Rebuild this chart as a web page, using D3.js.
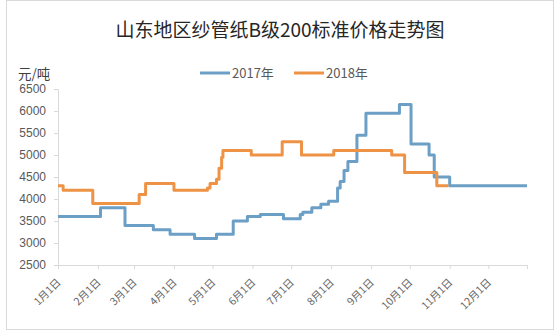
<!DOCTYPE html>
<html>
<head>
<meta charset="utf-8">
<script src="https://cdn.jsdelivr.net/npm/d3@7/dist/d3.min.js"></script>
<style>
  html, body { margin: 0; padding: 0; background: #fff; }
  svg { display: block; }
</style>
</head>
<body>
<svg id="chart" width="560" height="335"></svg>
<script>
// Price change points (month-day, 元/吨); each level holds until the next date
const dates2017 = ["01-01","02-03","02-22","03-16","03-29","04-17","05-04","05-17","05-28","06-07","06-25","07-08","07-10","07-17","07-24","07-30","08-06","08-08","08-11","08-14","08-21","08-28","09-23","10-02","10-16","10-20","11-01","12-31"];
const values2017 = [3600,3800,3400,3300,3200,3100,3200,3500,3600,3650,3550,3650,3700,3800,3880,3950,4250,4400,4650,4850,5450,5950,6150,5250,5000,4500,4300,4300];

const dates2018 = ["01-01","01-05","01-28","03-05","03-10","04-01","04-27","04-29","05-04","05-06","05-08","05-09","05-31","06-24","07-09","08-03","09-17","09-27","10-22","10-31"];
const values2018 = [4300,4200,3900,4100,4350,4200,4250,4350,4450,4700,4950,5100,5000,5300,5000,5100,5000,4600,4300,4300];

const seriesNames = ["2017年", "2018年"];
const seriesColors = ["#6c9fc6", "#ee9346"];

const tickMonths = ["01-01","02-01","03-01","04-01","05-01","06-01","07-01","08-01","09-01","10-01","11-01","12-01"];
const tickLabels = ["1月1日","2月1日","3月1日","4月1日","5月1日","6月1日","7月1日","8月1日","9月1日","10月1日","11月1日","12月1日"];
const yTicks = [2500,3000,3500,4000,4500,5000,5500,6000,6500];

const titleText = "山东地区纱管纸B级200标准价格走势图";
const unitText = "元/吨";

// Both years share one month-day axis
const parseMD = md => d3.timeParse("%Y-%m-%d")("2017-" + md);

const svg = d3.select("#chart");
const plot = { left: 58, right: 527, top: 89, bottom: 265 };

// chart frame
svg.append("rect")
  .attr("x", 6.5).attr("y", 0.5)
  .attr("width", 547).attr("height", 329)
  .attr("fill", "#fff").attr("stroke", "#d9d9d9");

const x = d3.scaleTime()
  .domain([parseMD("01-01"), parseMD("12-31")])
  .range([plot.left, plot.right]);

const y = d3.scaleLinear()
  .domain([2500, 6500])
  .range([plot.bottom, plot.top]);

const axisFont = "'Liberation Sans', Arial, sans-serif";
const cjkFont = "'Noto Sans CJK SC', 'Noto Sans', sans-serif";

// y axis
const yAxis = svg.append("g")
  .attr("transform", `translate(${plot.left},0)`)
  .call(d3.axisLeft(y).tickValues(yTicks).tickSize(4).tickPadding(8).tickFormat(d3.format("d")));
yAxis.select(".domain").attr("stroke", "#d9d9d9");
yAxis.selectAll(".tick line").attr("stroke", "#d9d9d9");
yAxis.selectAll(".tick text")
  .attr("fill", "#595959")
  .style("font-family", axisFont)
  .style("font-size", "12px");

// x axis
const xAxis = svg.append("g")
  .attr("transform", `translate(0,${plot.bottom})`)
  .call(d3.axisBottom(x)
    .tickValues(tickMonths.map(parseMD))
    .tickSize(4)
    .tickFormat((d, i) => tickLabels[i]));
xAxis.select(".domain").attr("stroke", "#d9d9d9");
xAxis.selectAll(".tick line").attr("stroke", "#d9d9d9");
xAxis.selectAll(".tick text")
  .attr("x", 0).attr("y", 0).attr("dy", 0)
  .attr("transform", "translate(3,18) rotate(-45)")
  .attr("text-anchor", "end")
  .attr("fill", "#666")
  .style("font-family", cjkFont)
  .style("font-size", "10.5px");

// price lines
const line = d3.line()
  .x(d => x(d.date))
  .y(d => y(d.value))
  .curve(d3.curveStepAfter);

const series = [
  { name: seriesNames[0], color: seriesColors[0], pts: dates2017.map((d, i) => ({ date: parseMD(d), value: values2017[i] })) },
  { name: seriesNames[1], color: seriesColors[1], pts: dates2018.map((d, i) => ({ date: parseMD(d), value: values2018[i] })) }
];

svg.append("g").selectAll("path")
  .data(series)
  .join("path")
  .attr("d", s => line(s.pts))
  .attr("fill", "none")
  .attr("stroke", s => s.color)
  .attr("stroke-width", 3)
  .attr("stroke-linejoin", "round");

// title
svg.append("text")
  .attr("x", 280).attr("y", 37)
  .attr("text-anchor", "middle")
  .attr("fill", "#262626")
  .style("font-family", cjkFont)
  .style("font-size", "19px")
  .text(titleText);

// unit label
svg.append("text")
  .attr("x", 18).attr("y", 79)
  .attr("fill", "#404040")
  .style("font-family", cjkFont)
  .style("font-size", "13.5px")
  .text(unitText);

// legend
const legendX = [200, 294];
const legend = svg.append("g").selectAll("g")
  .data(series)
  .join("g")
  .attr("transform", (d, i) => `translate(${legendX[i]},73)`);
legend.append("line")
  .attr("x1", 0).attr("x2", 30)
  .attr("stroke", d => d.color)
  .attr("stroke-width", 3);
legend.append("text")
  .attr("x", 32).attr("y", 0).attr("dy", "0.35em")
  .attr("fill", "#595959")
  .style("font-family", cjkFont)
  .style("font-size", "13px")
  .text(d => d.name);
</script>
</body>
</html>
